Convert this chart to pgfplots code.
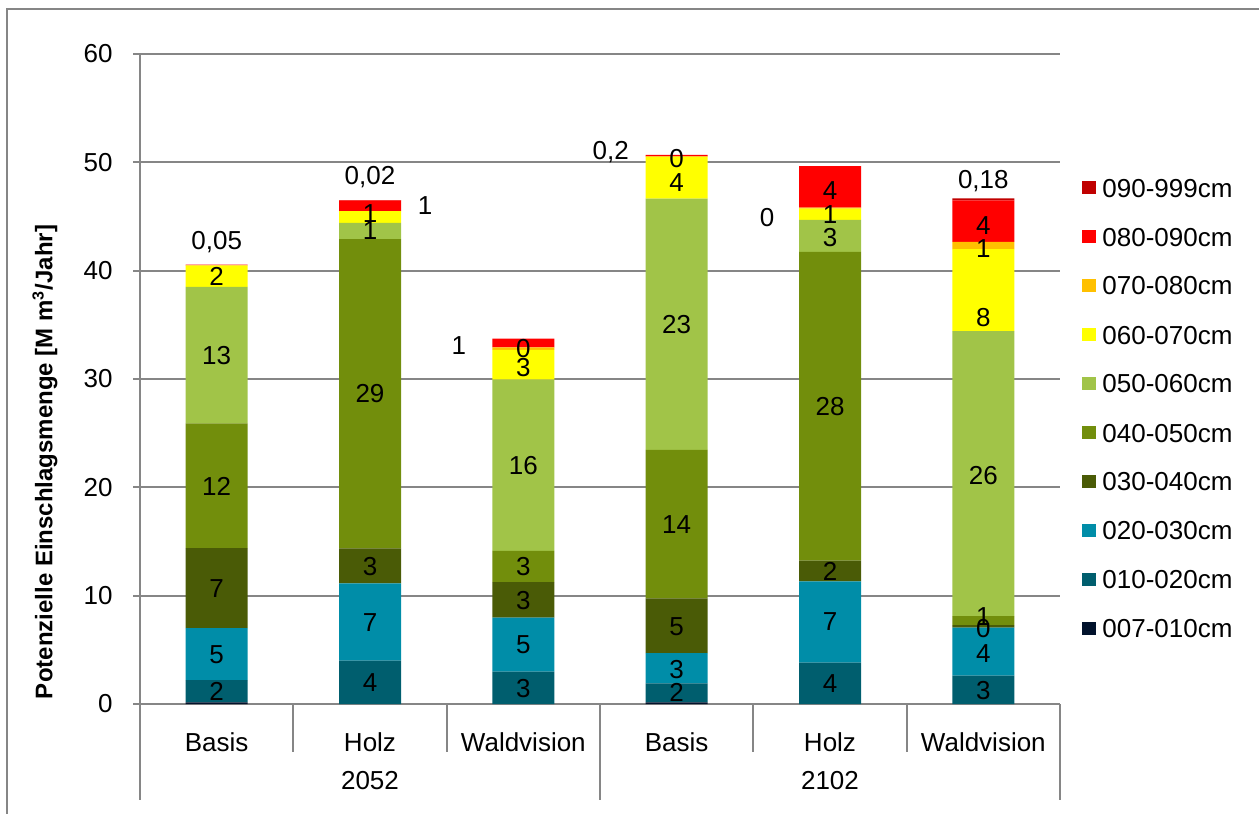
\documentclass[border=0pt]{standalone}
\usepackage{pgfplots}
\pgfplotsset{compat=1.18}
\usepackage{pgfplotstable}
\usepackage{fontspec}
\setmainfont{Liberation Sans}
\definecolor{axgray}{RGB}{134,134,134}
\definecolor{c090}{RGB}{192,0,0}
\definecolor{c080}{RGB}{255,0,0}
\definecolor{c070}{RGB}{255,192,0}
\definecolor{c060}{RGB}{255,255,0}
\definecolor{c050}{RGB}{161,196,72}
\definecolor{c040}{RGB}{114,142,12}
\definecolor{c030}{RGB}{74,91,6}
\definecolor{c020}{RGB}{0,141,168}
\definecolor{c010}{RGB}{0,94,110}
\definecolor{c007}{RGB}{1,18,44}

\pgfplotstableread{
x  a007 a010 a020 a030 a040  a050  a060 a070 a080 a090
0  0.15 2.05 4.8  7.4  11.5  12.6  2.0  0.0  0.05 0.0
1  0.0  4.0  7.14 3.23 28.55 1.5   1.08 0.0  1.0  0.02
2  0.0  2.98 5.0  3.26 2.9   15.8  2.76 0.23 0.8  0.0
3  0.15 1.75 2.8  5.05 13.7  23.2  3.85 0.05 0.15 0.0
4  0.0  3.81 7.52 1.9  28.5  2.95  1.04 0.1  3.84 0.0
5  0.0  2.61 4.43 0.25 0.83  26.3  7.58 0.65 3.85 0.18
}\bars

\pgfplotstableread{
x    y     label
0    1.2   2
0    4.6   5
0    10.7  7
0    20.15 12
0    32.2  13
0    39.5  2
0    42.8  0,05
1    2.0   4
1    7.57  7
1    12.75 3
1    28.65 29
1    43.75 1
1    45.3  1
1.36 46.0  1
1    48.8  0,02
2    1.5   3
2    5.5   5
2    9.6   3
2    12.7  3
2    22.0  16
2    31.1  3
2    32.85 0
1.58 33.1  1
3    1.1   2
3    3.2   3
3    7.2   5
3    16.6  14
3    35.05 23
3    48.2  4
3    50.4  0
2.57 51.1  0,2
4    1.9   4
4    7.6   7
4    12.3  2
4    27.5  28
4    43.1  3
4    45.2  1
3.59 44.9  0
4    47.45 4
5    1.3   3
5    4.68  4
5    7.0   0
5    8.06  1
5    21.1  26
5    35.7  8
5    42.05 1
5    44.2  4
5    48.4  0,18
}\labels

\begin{document}
\begin{tikzpicture}
\useasboundingbox (0,0) rectangle (629.5pt,407pt);
\draw[axgray, line width=1pt] (3.5pt,-10pt) -- (3.5pt,402.5pt) -- (640pt,402.5pt);
\begin{axis}[
  at={(70pt,55pt)}, anchor=south west,
  scale only axis, width=460pt, height=325pt,
  ybar stacked, bar width=31pt,
  xmin=-0.5, xmax=5.5, ymin=0, ymax=60,
  ytick={0,10,...,60},
  xtick={0,...,5},
  xticklabels={Basis,Holz,Waldvision,Basis,Holz,Waldvision},
  axis x line*=bottom, axis y line*=left,
  axis line style={axgray, line width=1pt},
  ymajorgrids, grid style={axgray, line width=1pt},
  tick align=outside, major tick length=3.5pt,
  ytick style={axgray, line width=1pt},
  xtick style={draw=none},
  tick label style={font=\fontsize{13}{15}\selectfont},
  yticklabel style={inner sep=0pt, xshift=-10pt},
  xticklabel style={anchor=center, inner sep=0pt, text height=9.3pt, text depth=0pt, yshift=-15.5pt},
  /pgf/number format/assume math mode=true,
  clip=false,
  reverse legend,
  legend cell align=left,
  legend style={draw=none, fill=none, at={(rel axis cs:1.0174,0.8154)}, anchor=north west,
    font=\fontsize{13}{15}\selectfont, row sep=15.2pt,
    nodes={inner sep=0pt, text height=9.3pt, text depth=0pt},
    /tikz/every odd column/.append style={column sep=3pt}},
  legend image code/.code={\fill[#1] (0pt,-3.3pt) rectangle (7pt,3.3pt);},
]
\addplot[fill=c007, draw=none] table[x=x, y=a007]{\bars};
\addplot[fill=c010, draw=none] table[x=x, y=a010]{\bars};
\addplot[fill=c020, draw=none] table[x=x, y=a020]{\bars};
\addplot[fill=c030, draw=none] table[x=x, y=a030]{\bars};
\addplot[fill=c040, draw=none] table[x=x, y=a040]{\bars};
\addplot[fill=c050, draw=none] table[x=x, y=a050]{\bars};
\addplot[fill=c060, draw=none] table[x=x, y=a060]{\bars};
\addplot[fill=c070, draw=none] table[x=x, y=a070]{\bars};
\addplot[fill=c080, draw=none] table[x=x, y=a080]{\bars};
\addplot[fill=c090, draw=none] table[x=x, y=a090]{\bars};
\legend{007-010cm,010-020cm,020-030cm,030-040cm,040-050cm,050-060cm,060-070cm,070-080cm,080-090cm,090-999cm}
\draw[axgray, line width=1pt] (axis cs:-0.5,0) -- ++(0pt,-48pt);
\draw[axgray, line width=1pt] (axis cs:0.5,0) -- ++(0pt,-24pt);
\draw[axgray, line width=1pt] (axis cs:1.5,0) -- ++(0pt,-24pt);
\draw[axgray, line width=1pt] (axis cs:2.5,0) -- ++(0pt,-48pt);
\draw[axgray, line width=1pt] (axis cs:3.5,0) -- ++(0pt,-24pt);
\draw[axgray, line width=1pt] (axis cs:4.5,0) -- ++(0pt,-24pt);
\draw[axgray, line width=1pt] (axis cs:5.5,0) -- ++(0pt,-48pt);
\node[font=\fontsize{13}{15}\selectfont, anchor=center, inner sep=0pt, text height=9.3pt, text depth=0pt] at ([yshift=-38pt]axis cs:1,0) {2052};
\node[font=\fontsize{13}{15}\selectfont, anchor=center, inner sep=0pt, text height=9.3pt, text depth=0pt] at ([yshift=-38pt]axis cs:4,0) {2102};
\end{axis}
\begin{axis}[
  at={(70pt,55pt)}, anchor=south west,
  scale only axis, width=460pt, height=325pt,
  xmin=-0.5, xmax=5.5, ymin=0, ymax=60,
  hide axis, clip=false,
]
\addplot[only marks, mark=*, mark size=0pt, mark options={draw=none, fill=none},
  nodes near coords, point meta=explicit symbolic,
  nodes near coords style={anchor=center, inner sep=0pt, text height=9.3pt, text depth=0pt,
    font=\fontsize{13}{15}\selectfont, text=black}]
  table[x=x, y=y, meta=label]{\labels};
\end{axis}
\node[rotate=90, font=\bfseries\fontsize{12}{14}\selectfont] at (22.5pt,176pt)
  {Potenzielle Einschlagsmenge [M m\textsuperscript{3}/Jahr]};
\end{tikzpicture}
\end{document}
